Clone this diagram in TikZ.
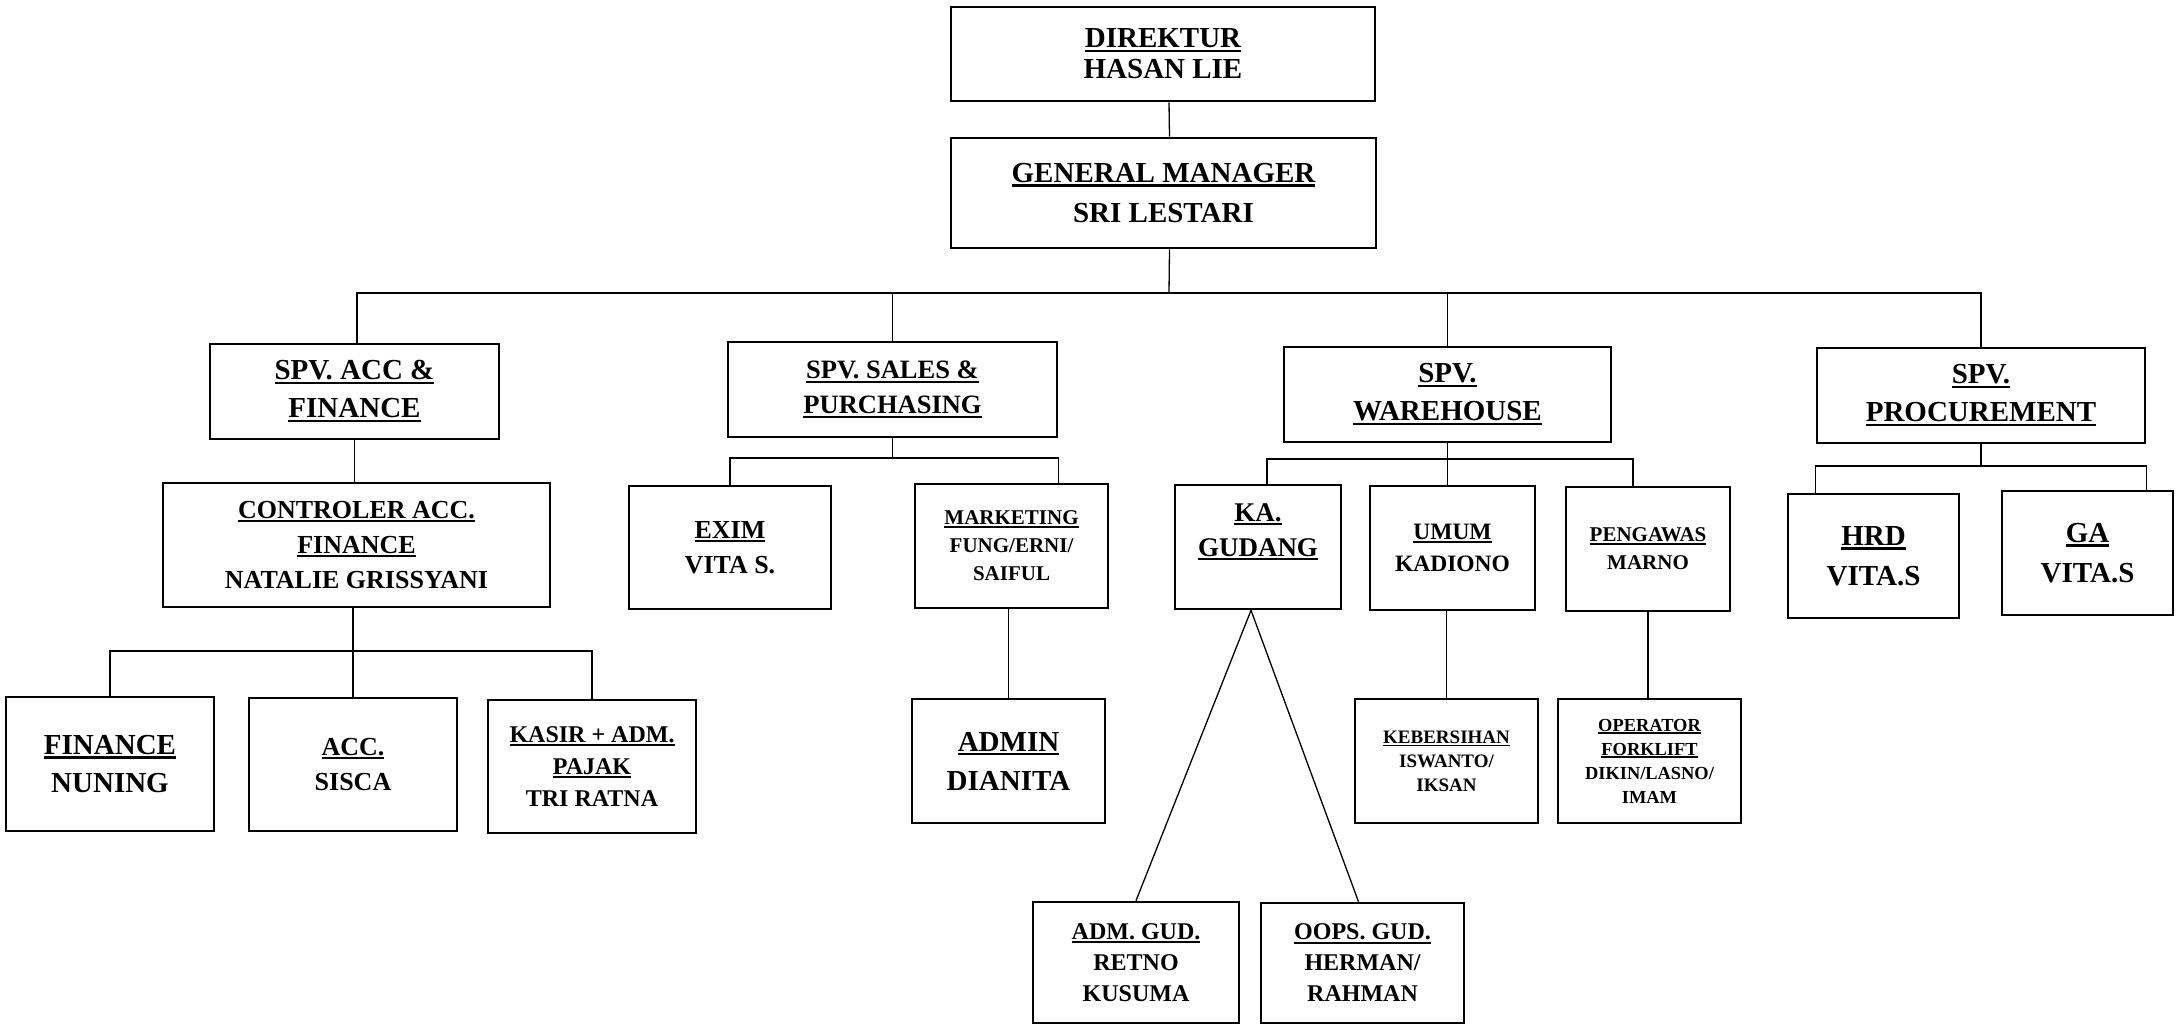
\documentclass[tikz,border=0pt]{standalone}
\usepackage{fontspec}
\setmainfont{Liberation Serif}
\usetikzlibrary{positioning, calc}
\newcommand{\titul}[1]{\setbox0=\hbox{#1}\rlap{\rule[-0.15em]{\wd0}{0.08em}}\box0}

\begin{document}
\begin{tikzpicture}[x=1pt, y=-1pt,
    box/.style={draw, line width=2.6pt, inner sep=0pt, align=center},
    sz/.style 2 args={minimum width=#1, minimum height=#2},
    txt/.style 2 args={font=\bfseries\fontsize{#1}{#2}\selectfont},
    link/.style={line width=1.3pt}]
            \useasboundingbox (0,0) rectangle (2176,1025);
            \node[box, sz={424}{94}, txt={29}{31}] (dir) at (1163,54) {\titul{DIREKTUR}\\HASAN LIE};
            \node[box, sz={425}{110}, txt={29}{40}] (gm) at (1163.5,193) {\titul{GENERAL MANAGER}\\SRI LESTARI};
            \node[box, sz={289}{95}, txt={29}{38}] (spvacc) at (354.5,391.5) {\titul{SPV. ACC \&}\\\titul{FINANCE}};
            \node[box, sz={329}{95}, txt={26.5}{35}] (spvsales) at (892.5,389.5) {\titul{SPV. SALES \&}\\\titul{PURCHASING}};
            \node[box, sz={327}{95}, txt={29}{38}] (spvwh) at (1447.5,394.5) {\titul{SPV.}\\\titul{WAREHOUSE}};
            \node[box, sz={328}{95}, txt={29}{38}] (spvproc) at (1981,395.5) {\titul{SPV.}\\\titul{PROCUREMENT}};
            \node[box, sz={387}{124}, txt={26}{35}] (ctrl) at (356.5,545) {\titul{CONTROLER ACC.}\\\titul{FINANCE}\\NATALIE GRISSYANI};
            \node[box, sz={202}{123}, txt={26}{35}] (exim) at (730,547.5) {\titul{EXIM}\\VITA S.};
            \node[box, sz={193}{124}, txt={21}{28}] (mkt) at (1011.5,546) {\titul{MARKETING}\\FUNG/ERNI/\\SAIFUL};
            \node[box, sz={166}{124}, txt={27}{35}, text depth=34pt] (kagud) at (1258,547) {\titul{KA.}\\\titul{GUDANG}};
            \node[box, sz={165}{124}, txt={23.5}{32}] (umum) at (1452.5,548) {\titul{UMUM}\\KADIONO};
            \node[box, sz={164}{124}, txt={21}{28}] (pengawas) at (1648,549) {\titul{PENGAWAS}\\MARNO};
            \node[box, sz={171}{124}, txt={29}{40}] (hrd) at (1873.5,556) {\titul{HRD}\\VITA.S};
            \node[box, sz={171}{124}, txt={29}{40}] (ga) at (2087.5,553) {\titul{GA}\\VITA.S};
            \node[box, sz={208}{134}, txt={29}{38}] (finance) at (110,764) {\titul{FINANCE}\\NUNING};
            \node[box, sz={208}{133}, txt={26}{35}] (acc) at (353,764.5) {\titul{ACC.}\\SISCA};
            \node[box, sz={208}{133}, txt={24}{32}] (kasir) at (592,766.5) {\titul{KASIR + ADM.}\\\titul{PAJAK}\\TRI RATNA};
            \node[box, sz={193}{124}, txt={29}{39}] (admin) at (1008.5,761) {\titul{ADMIN}\\DIANITA};
            \node[box, sz={183}{124}, txt={19}{24}] (keb) at (1446.5,761) {\titul{KEBERSIHAN}\\ISWANTO/\\IKSAN};
            \node[box, sz={183}{124}, txt={18.4}{24}] (operator) at (1649.5,761) {\titul{OPERATOR}\\\titul{FORKLIFT}\\DIKIN/LASNO/\\IMAM};
            \node[box, sz={206}{121}, txt={24}{31}] (admgud) at (1136,962.5) {\titul{ADM. GUD.}\\RETNO\\KUSUMA};
            \node[box, sz={203}{120}, txt={24}{31}] (oopsgud) at (1362.5,963) {\titul{OOPS. GUD.}\\HERMAN/\\RAHMAN};
            % top of the tree
            \coordinate (busgm) at (1169,293);
            \draw[link] ([xshift=6]dir.south) -- ([xshift=6]gm.north);
            \draw[link] ([xshift=6]gm.south) -- (busgm);
            \draw[link] ([xshift=2.5]spvacc.north) |- (busgm) -| (spvproc.north);
            \foreach \n in {spvsales,spvwh} \draw[link] (\n.north) -- (\n.north |- busgm);
            % acc & finance
            \coordinate (busctrl) at (353,651);
            \draw[link] (spvacc.south) -- (spvacc.south |- ctrl.north);
            \draw[link] (acc.north |- ctrl.south) -- (acc.north);
            \draw[link] (finance.north) |- (busctrl) -| (kasir.north);
            % sales
            \coordinate (bussales) at (892.5,458);
            \draw[link] (spvsales.south) -- (bussales);
            \draw[link] (exim.north) |- (bussales) -| (mkt.north -| spvsales.east);
            \draw[link] (admin.north |- mkt.south) -- (admin.north);
            % warehouse
            \coordinate (buswh) at (1447.5,459);
            \draw[link] (spvwh.south) -- (spvwh.south |- umum.north);
            \draw[link] ([xshift=9]kagud.north) |- (buswh) -| ([xshift=-15]pengawas.north);
            \draw[link] (keb.north |- umum.south) -- (keb.north);
            \draw[link] (pengawas.south) -- (pengawas.south |- operator.north);
            \draw[link] (admgud.north) -- ([xshift=-7]kagud.south) -- ([xshift=-4]oopsgud.north);
            % procurement
            \coordinate (busproc) at (1981,466);
            \draw[link] (spvproc.south) -- (busproc);
            \draw[link] (hrd.north -| spvproc.west) |- (busproc) -| (ga.north -| spvproc.east);
        \end{tikzpicture}
\end{document}
